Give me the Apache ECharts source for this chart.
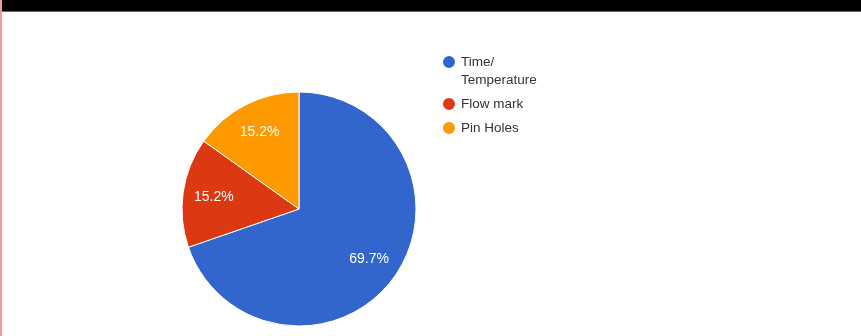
<!DOCTYPE html>
<html>
<head>
<meta charset="utf-8">
<script src="https://cdn.jsdelivr.net/npm/echarts@6/dist/echarts.min.js"></script>
<style>
html,body{margin:0;padding:0;background:#fff;}
#wrap{position:relative;width:861px;height:336px;overflow:hidden;}
#chart{position:absolute;left:0;top:0;width:861px;height:336px;}
#topbar{position:absolute;left:0;top:0;width:861px;height:11px;background:#000;border-bottom:1px solid #d8383c;pointer-events:none;}
#leftbar{position:absolute;left:0;top:0;width:2px;height:336px;background:#f29a9c;pointer-events:none;}
</style>
</head>
<body>
<div id="wrap">
  <div id="chart"></div>
  <div id="topbar"></div>
  <div id="leftbar"></div>
</div>
<script>
var categories = ['Time/Temperature', 'Flow mark', 'Pin Holes'];
var values = [23, 5, 5];
var colors = ['#3366cc', '#dc3912', '#ff9900'];

var total = values.reduce(function (a, b) { return a + b; }, 0);
var data = categories.map(function (c, i) { return { name: c, value: values[i] }; });

var chart = echarts.init(document.getElementById('chart'), null, { renderer: 'canvas' });
var font = 'Arial, "Liberation Sans", sans-serif';
chart.setOption({
  animation: false,
  color: colors,
  textStyle: { fontFamily: font },
  legend: {
    orient: 'vertical',
    left: 441,
    top: 36,
    padding: 0,
    itemGap: 8,
    icon: 'circle',
    itemWidth: 14,
    itemHeight: 14,
    selectedMode: false,
    data: [
      { name: categories[0], textStyle: { padding: [16, 0, 0, 0] } },
      categories[1],
      categories[2]
    ],
    formatter: function (name) {
      if (name === categories[0]) return '{a|Time/}\n{b|Temperature}';
      return name;
    },
    textStyle: {
      fontFamily: font,
      fontSize: 13.5,
      color: '#333',
      lineHeight: 16,
      rich: {
        a: { fontFamily: font, fontSize: 13.5, color: '#333', lineHeight: 20 },
        b: { fontFamily: font, fontSize: 13.5, color: '#333', lineHeight: 16 }
      }
    }
  },
  series: [
    {
      type: 'pie',
      center: [299, 209],
      radius: 117,
      startAngle: 90,
      clockwise: true,
      silent: true,
      label: { show: false },
      labelLine: { show: false },
      itemStyle: { borderColor: '#ffffff', borderWidth: 1 },
      data: data
    },
    {
      type: 'pie',
      center: [299, 209],
      radius: [49, 117],
      startAngle: 90,
      clockwise: true,
      silent: true,
      itemStyle: { color: 'rgba(0,0,0,0)', borderWidth: 0 },
      label: {
        show: true,
        position: 'inside',
        color: '#ffffff',
        fontFamily: font,
        fontSize: 14,
        formatter: function (p) { return (p.value / total * 100).toFixed(1) + '%'; }
      },
      labelLine: { show: false },
      data: data
    }
  ]
});
</script>
</body>
</html>
